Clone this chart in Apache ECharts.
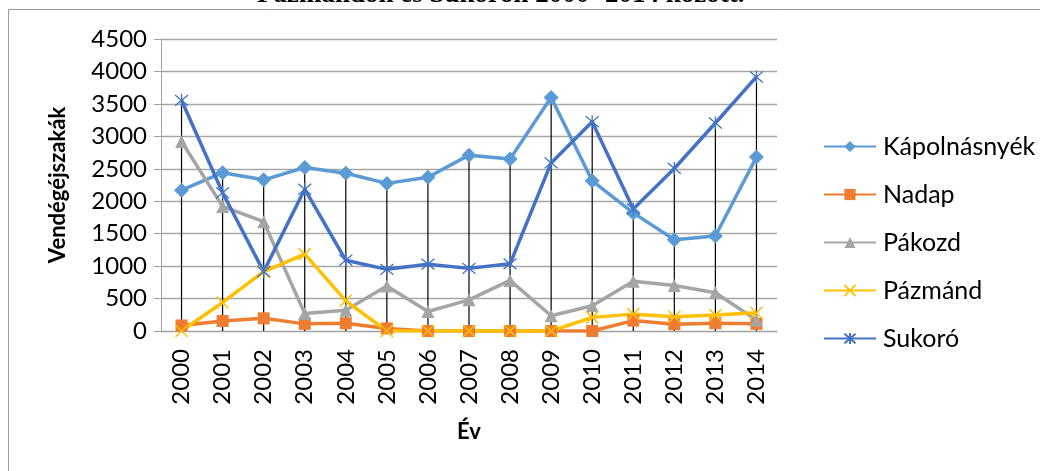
<!DOCTYPE html>
<html>
<head>
<meta charset="utf-8">
<script src="https://cdn.jsdelivr.net/npm/echarts@6/dist/echarts.min.js"></script>
<style>
  html, body { margin: 0; padding: 0; background: #fff; }
  #chart { width: 1040px; height: 471px; }
</style>
</head>
<body>
<div id="chart"></div>
<script>
// évek
const years = ['2000', '2001', '2002', '2003', '2004', '2005', '2006', '2007',
  '2008', '2009', '2010', '2011', '2012', '2013', '2014'];

// vendégéjszakák településenként
const kapolnasnyek = [2170, 2440, 2330, 2520, 2430, 2275, 2370, 2710, 2650, 3600, 2315, 1820, 1405, 1465, 2680];
const nadap = [85, 155, 195, 110, 120, 40, 0, 0, 0, 0, 0, 160, 105, 120, 110];
const pakozd = [2920, 1920, 1685, 270, 320, 695, 300, 480, 780, 235, 390, 765, 700, 590, 170];
const pazmand = [0, 440, 915, 1185, 465, 0, 0, 0, 0, 0, 210, 260, 220, 245, 280];
const sukoro = [3555, 2130, 915, 2185, 1090, 950, 1030, 965, 1035, 2590, 3225, 1880, 2505, 3205, 3915];

const yTicks = [0, 500, 1000, 1500, 2000, 2500, 3000, 3500, 4000, 4500];

// függőleges vonalak: minden évben a legnagyobb értékig
const dropTop = years.map((y, i) =>
  Math.max(kapolnasnyek[i], nadap[i], pakozd[i], pazmand[i], sukoro[i]));

const FONT = 'Lato';
const starX = 'path://M0,0L10,10M10,0L0,10';
const starAst = 'path://M0,0L10,10M10,0L0,10M5,-1L5,11';

function lineSeries(name, data, color, symbol, size, extra) {
  return Object.assign({
    name: name,
    type: 'line',
    data: data,
    symbol: symbol,
    symbolSize: size,
    z: 3,
    lineStyle: { color: color, width: 3.5 },
    itemStyle: { color: color },
    emphasis: { disabled: true }
  }, extra || {});
}

let myChart = echarts.init(document.getElementById('chart'));
let option = {
  animation: false,
  textStyle: { fontFamily: FONT },
  graphic: [
    {
      type: 'rect',
      shape: { x: 8.5, y: 9.5, width: 1100, height: 600 },
      style: { fill: 'none', stroke: '#9a9a9a', lineWidth: 1 },
      z: -10
    },
    {
      type: 'text',
      x: 257,
      y: -18,
      style: {
        text: 'Pázmándon és Sukorón 2000- 2014 között.',
        font: 'bold 27px "Liberation Serif"',
        fill: '#000'
      }
    }
  ],
  grid: { left: 161, right: 263, top: 39, bottom: 140 },
  legend: {
    data: ['Kápolnásnyék', 'Nadap', 'Pákozd', 'Pázmánd', 'Sukoró'],
    orient: 'vertical',
    left: 818,
    top: 129,
    itemWidth: 52,
    itemHeight: 14,
    itemGap: 23,
    textStyle: { fontFamily: FONT, fontSize: 25, color: '#000', padding: [0, 0, 0, 2] }
  },
  xAxis: {
    type: 'category',
    data: years,
    name: 'Év',
    nameLocation: 'middle',
    nameGap: 90,
    nameTextStyle: { fontFamily: FONT, fontSize: 22, fontWeight: 'bold', color: '#000' },
    axisLine: { lineStyle: { color: '#a0a0a0', width: 1 } },
    axisTick: { show: false },
    axisLabel: { rotate: 90, fontSize: 24, color: '#000', margin: 18 },
    splitLine: { show: false }
  },
  yAxis: {
    type: 'value',
    min: yTicks[0],
    max: yTicks[yTicks.length - 1],
    interval: 500,
    name: 'Vendégéjszakák',
    nameLocation: 'middle',
    nameGap: 92,
    nameRotate: 90,
    nameTextStyle: { fontFamily: FONT, fontSize: 22, fontWeight: 'bold', color: '#000' },
    axisLine: { show: true, lineStyle: { color: '#a0a0a0', width: 1 } },
    axisTick: { show: true, length: 7, lineStyle: { color: '#a0a0a0' } },
    axisLabel: { fontSize: 24, color: '#000', margin: 14, formatter: v => String(v) },
    splitLine: { lineStyle: { color: '#a6a6a6', width: 1.3 } }
  },
  series: [
    {
      name: 'drop',
      type: 'bar',
      data: dropTop,
      barWidth: 1.2,
      silent: true,
      z: 1,
      itemStyle: { color: '#000' }
    },
    lineSeries('Kápolnásnyék', kapolnasnyek, '#5B9BD5', 'diamond', 15),
    lineSeries('Nadap', nadap, '#ED7D31', 'rect', 12),
    lineSeries('Pákozd', pakozd, '#A5A5A5', 'triangle', 13),
    lineSeries('Pázmánd', pazmand, '#FFC000', starX, 12, {
      itemStyle: { color: 'none', borderColor: '#FFC000', borderWidth: 1.5 }
    }),
    lineSeries('Sukoró', sukoro, '#4472C4', starAst, 13, {
      itemStyle: { color: 'none', borderColor: '#4472C4', borderWidth: 1.3 }
    })
  ]
};
myChart.setOption(option);
</script>
</body>
</html>
